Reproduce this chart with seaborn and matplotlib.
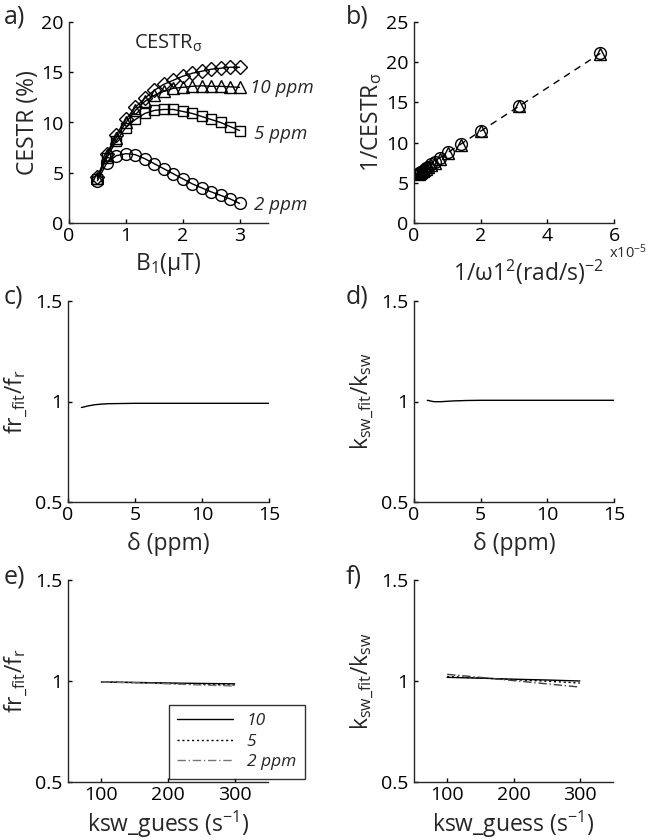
import matplotlib
matplotlib.use('Agg')
import numpy as np
import matplotlib.pyplot as plt
import seaborn as sns
from matplotlib.ticker import FuncFormatter

# ---- datos ----
b1 = [0.5, 0.667, 0.833, 1.0, 1.167, 1.333, 1.5, 1.667, 1.833, 2.0,
      2.167, 2.333, 2.5, 2.667, 2.833, 3.0]
cestr_2ppm = [4.2, 6.0, 6.7, 6.9, 6.8, 6.4, 5.9, 5.4, 4.9, 4.4,
              3.9, 3.5, 3.1, 2.75, 2.4, 1.95]
cestr_5ppm = [4.4, 6.5, 8.2, 9.5, 10.3, 10.9, 11.2, 11.3, 11.3, 11.1,
              10.9, 10.6, 10.3, 10.0, 9.6, 9.2]
cestr_10ppm = [4.5, 6.8, 8.5, 10.0, 11.2, 12.1, 12.7, 13.1, 13.4, 13.5,
               13.6, 13.65, 13.6, 13.6, 13.55, 13.5]
cestr_sigma = [4.6, 6.9, 8.8, 10.3, 11.5, 12.4, 13.2, 13.8, 14.2, 14.6,
               14.9, 15.1, 15.3, 15.4, 15.5, 15.5]

inv_w1sq = [5.59e-5, 3.14e-5, 2.01e-5, 1.40e-5, 1.03e-5, 0.79e-5, 0.62e-5, 0.50e-5,
            0.41e-5, 0.35e-5, 0.30e-5, 0.26e-5, 0.22e-5, 0.20e-5, 0.17e-5, 0.155e-5]
inv_cestr_o = [21.1, 14.6, 11.5, 9.8, 8.8, 8.1, 7.6, 7.3, 7.0, 6.8,
               6.65, 6.5, 6.4, 6.3, 6.25, 6.2]
inv_cestr_t = [21.0, 14.5, 11.4, 9.7, 8.7, 8.0, 7.5, 7.2, 6.95, 6.75,
               6.6, 6.45, 6.35, 6.3, 6.2, 6.15]
fit_x = [0.1e-5, 5.59e-5]
fit_y = [6.3, 21.1]

delta = [1, 1.5, 2, 2.5, 3, 4, 5, 7, 10, 15]
fr_ratio_delta = [0.970, 0.978, 0.984, 0.987, 0.989, 0.990, 0.991, 0.991, 0.991, 0.991]
ksw_ratio_delta = [1.006, 0.999, 0.999, 1.001, 1.003, 1.005, 1.006, 1.006, 1.006, 1.006]

ksw_guess = [100, 150, 200, 250, 300]
fr_10 = [0.995, 0.993, 0.990, 0.988, 0.986]
fr_5 = [0.995, 0.992, 0.988, 0.984, 0.980]
fr_2 = [0.995, 0.991, 0.986, 0.980, 0.975]
ksw_10 = [1.018, 1.014, 1.009, 1.005, 1.000]
ksw_5 = [1.022, 1.015, 1.007, 0.999, 0.990]
ksw_2 = [1.033, 1.018, 1.002, 0.986, 0.970]

# ---- estilo ----
sns.set_style('ticks')
plt.rcParams['font.family'] = ['Open Sans', 'DejaVu Sans']
plt.rcParams['mathtext.fontset'] = 'custom'
plt.rcParams['mathtext.rm'] = 'Open Sans'
plt.rcParams['mathtext.it'] = 'Open Sans:italic'
plt.rcParams['mathtext.sf'] = 'Open Sans'
plt.rcParams.update({'xtick.direction': 'in', 'ytick.direction': 'in',
                     'xtick.labelsize': 14, 'ytick.labelsize': 14,
                     'axes.labelsize': 16.5, 'axes.linewidth': 1.0,
                     'xtick.major.size': 3, 'ytick.major.size': 3,
                     'xtick.major.pad': 3, 'ytick.major.pad': 4})

fig = plt.figure(figsize=(6.49, 8.4), dpi=100)
W, H = 649, 840

def make_ax(x0, y_top, y_bot, x1):
    return fig.add_axes([x0 / W, 1 - y_bot / H, (x1 - x0) / W, (y_bot - y_top) / H])

ax_a = make_ax(69, 22, 223, 268)
ax_b = make_ax(414, 22, 223, 614)
ax_c = make_ax(68, 301, 502, 269)
ax_d = make_ax(414, 301, 502, 614)
ax_e = make_ax(68, 580, 782, 268)
ax_f = make_ax(414, 580, 782, 613)

for ax in [ax_a, ax_b, ax_c, ax_d, ax_e, ax_f]:
    sns.despine(ax=ax)
    ax.tick_params(colors='black', width=1)

mk = dict(color='black', markerfacecolor='none', markeredgecolor='black',
          markeredgewidth=1.0, markersize=8.5, linewidth=1.0)

# a)
sns.lineplot(x=b1, y=cestr_2ppm, marker='o', ax=ax_a, **mk)
sns.lineplot(x=b1, y=cestr_5ppm, marker='s', ax=ax_a, **{**mk, 'markersize': 7})
sns.lineplot(x=b1, y=cestr_10ppm, marker='^', ax=ax_a, **mk)
sns.lineplot(x=b1, y=cestr_sigma, marker='D', ax=ax_a, **{**mk, 'markersize': 7.5})
ax_a.set_xlim(0, 3.5)
ax_a.set_ylim(0, 20)
ax_a.set_xticks([0, 1, 2, 3])
ax_a.set_yticks([0, 5, 10, 15, 20])
ax_a.set_xlabel('B$_1$(µT)', labelpad=4)
ax_a.set_ylabel('CESTR (%)', labelpad=1)
ax_a.text(1.14, 17.9, r'CESTR$_{\mathregular{σ}}$', fontsize=14.5, va='center')
ax_a.text(3.19, 13.4, '10 ppm', fontsize=13.5, style='italic', va='center', clip_on=False)
ax_a.text(3.26, 8.9, '5 ppm', fontsize=13.5, style='italic', va='center', clip_on=False)
ax_a.text(3.26, 1.8, '2 ppm', fontsize=13.5, style='italic', va='center', clip_on=False)

# b)
sns.lineplot(x=fit_x, y=fit_y, ax=ax_b, color='black', linestyle=(0, (5, 4)), linewidth=1.0)
sns.lineplot(x=inv_w1sq, y=inv_cestr_o, marker='o', ax=ax_b, linestyle='none',
             **{k: v for k, v in mk.items() if k != 'linewidth'})
sns.lineplot(x=inv_w1sq, y=inv_cestr_t, marker='^', ax=ax_b, linestyle='none',
             **{k: v for k, v in mk.items() if k != 'linewidth'})
ax_b.set_xlim(0, 6e-5)
ax_b.set_ylim(0, 25)
ax_b.set_xticks([0, 2e-5, 4e-5, 6e-5])
ax_b.set_yticks([0, 5, 10, 15, 20, 25])
ax_b.xaxis.set_major_formatter(FuncFormatter(lambda v, p: f'{v * 1e5:g}'))
ax_b.set_xlabel('1/ω1$^2$(rad/s)$^{-2}$')
ax_b.xaxis.set_label_coords(0.57, -0.175)
ax_b.set_ylabel(r'1/CESTR$_{\mathregular{σ}}$', labelpad=1)
ax_b.text(1.07, -0.15, r'x10$^{-5}$', transform=ax_b.transAxes, fontsize=10.5,
          ha='center', va='center')

# c) d)
sns.lineplot(x=delta, y=fr_ratio_delta, ax=ax_c, color='black', linewidth=1.0)
sns.lineplot(x=delta, y=ksw_ratio_delta, ax=ax_d, color='black', linewidth=1.0)
for ax in [ax_c, ax_d]:
    ax.set_xlim(0, 15)
    ax.set_xticks([0, 5, 10, 15])
    ax.set_xlabel('δ (ppm)', labelpad=6)

fr_label = r'fr$_{\mathregular{\_fit}}$/f$_{\mathregular{r}}$'
ksw_label = r'k$_{\mathregular{sw\_fit}}$/k$_{\mathregular{sw}}$'
ax_c.set_ylabel(fr_label, labelpad=4)
ax_d.set_ylabel(ksw_label, labelpad=4)

# e) f)
sns.lineplot(x=ksw_guess, y=fr_10, ax=ax_e, color='black', linewidth=1.0, label='10')
sns.lineplot(x=ksw_guess, y=fr_5, ax=ax_e, color='black', linewidth=1.0,
             linestyle=(0, (1.5, 2)), label='5')
sns.lineplot(x=ksw_guess, y=fr_2, ax=ax_e, color='0.45', linewidth=1.0,
             linestyle=(0, (6, 2, 1, 2)), label='2 ppm')
sns.lineplot(x=ksw_guess, y=ksw_10, ax=ax_f, color='black', linewidth=1.0)
sns.lineplot(x=ksw_guess, y=ksw_5, ax=ax_f, color='black', linewidth=1.0,
             linestyle=(0, (1.5, 2)))
sns.lineplot(x=ksw_guess, y=ksw_2, ax=ax_f, color='0.25', linewidth=1.0,
             linestyle=(0, (6, 2, 1, 2)))
for ax in [ax_e, ax_f]:
    ax.set_xlim(50, 350)
    ax.set_xticks([100, 200, 300])
    ax.set_xlabel(r'ksw_guess (s$^{-1}$)', labelpad=3)
ax_e.set_ylabel(fr_label, labelpad=4)
ax_f.set_ylabel(ksw_label, labelpad=4)

leg = ax_e.legend(loc='upper left', bbox_to_anchor=(0.46, 0.426), frameon=True,
                  fancybox=False, edgecolor='black', handlelength=3.2,
                  prop={'style': 'italic', 'size': 12.5}, borderpad=0.5,
                  labelspacing=0.25)
leg.get_frame().set_linewidth(1.0)

for ax in [ax_c, ax_d, ax_e, ax_f]:
    ax.set_ylim(0.5, 1.5)
    ax.set_yticks([0.5, 1, 1.5])
    ax.set_yticklabels(['0.5', '1', '1.5'])

# letras de panel
for lbl, x, y in [('a)', 4, 17), ('b)', 346, 17), ('c)', 4, 297),
                  ('d)', 346, 297), ('e)', 4, 577), ('f)', 346, 577)]:
    fig.text(x / W, 1 - y / H, lbl, fontsize=18, va='center', ha='left')

fig.savefig('out.png', dpi=100)
